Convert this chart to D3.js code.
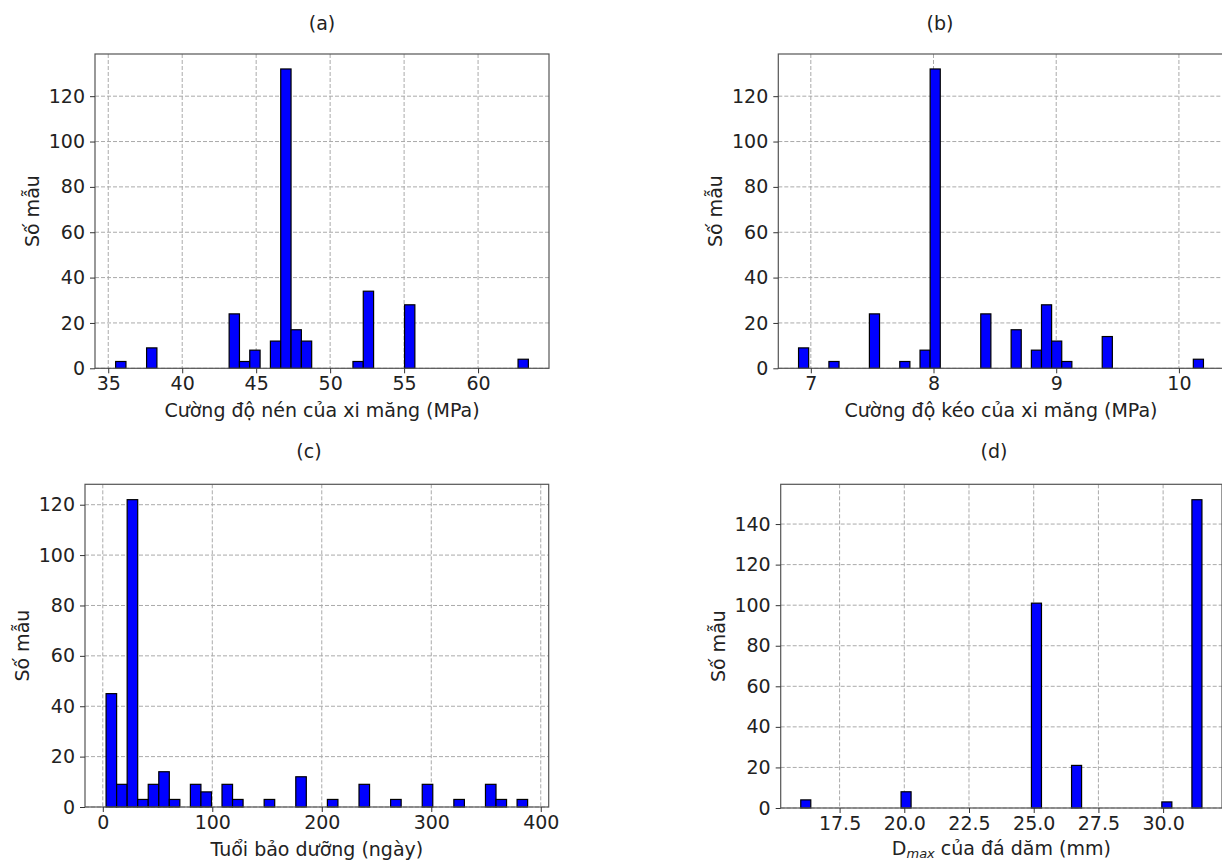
<!DOCTYPE html>
<html>
<head>
<meta charset="utf-8">
<script src="https://cdn.jsdelivr.net/npm/d3@7"></script>
<style>
  body { margin: 0; background: #fff; }
  svg { display: block; font-family: "DejaVu Sans", sans-serif; }
  .tick text { font-size: 19px; fill: #222; }
  .tick line { stroke: #333; }
  .grid line { stroke: #aaa; stroke-dasharray: 4,2; stroke-width: 1; }
</style>
</head>
<body>
<svg id="chart" width="1222" height="861"></svg>
<script>

// histogram counts, 40 equal bins between each data range
var countsA = [3,0,0,9,0,0,0,0,0,0, 0,24,3,8,0,12,132,17,12,0, 0,0,0,3,34,0,0,0,28,0, 0,0,0,0,0,0,0,0,0,4]
var countsB = [9,0,0,3,0,0,0,24,0,0, 3,0,8,132,0,0,0,0,24,0, 0,17,0,8,28,12,3,0,0,0, 14,0,0,0,0,0,0,0,0,4]
var countsC = [45,9,122,3,9,14,3,0,9,6, 0,9,3,0,0,3,0,0,12,0, 0,3,0,0,9,0,0,3,0,0, 9,0,0,3,0,0,9,3,0,3]
var countsD = [4,0,0,0,0,0,0,0,0,0, 8,0,0,0,0,0,0,0,0,0, 0,0,0,101,0,0,0,21,0,0, 0,0,0,0,0,0,3,0,0,152]

// data ranges (min, max) of each variable
var rangeA = [35.5, 63.4]
var rangeB = [6.9, 10.2]
var rangeC = [3, 388]
var rangeD = [16, 31.5]

// tick values
var xTicksA = [35, 40, 45, 50, 55, 60]
var xTicksB = [7, 8, 9, 10]
var xTicksC = [0, 100, 200, 300, 400]
var xTicksD = [17.5, 20.0, 22.5, 25.0, 27.5, 30.0]
var yTicksAB = [0, 20, 40, 60, 80, 100, 120]
var yTicksC = [0, 20, 40, 60, 80, 100, 120]
var yTicksD = [0, 20, 40, 60, 80, 100, 120, 140]

var titles = ["(a)", "(b)", "(c)", "(d)"]
var xLabels = ["Cường độ nén của xi măng (MPa)", "Cường độ kéo của xi măng (MPa)", "Tuổi bảo dưỡng (ngày)", null]
var yLabel = "Số mẫu"

var svg = d3.select("#chart")

var panels = [
  {counts: countsA, range: rangeA, xt: xTicksA, yt: yTicksAB, fmt: d3.format("d"),
   box: [95, 549, 54, 368.3], title: [322, 29.5], xl: xLabels[0], t: titles[0]},
  {counts: countsB, range: rangeB, xt: xTicksB, yt: yTicksAB, fmt: d3.format("d"),
   box: [778.3, 1223.7, 54, 368.3], title: [940, 29.5], xl: xLabels[1], t: titles[1]},
  {counts: countsC, range: rangeC, xt: xTicksC, yt: yTicksC, fmt: d3.format("d"),
   box: [85, 548.7, 484.3, 807], title: [309, 457.5], xl: xLabels[2], t: titles[2]},
  {counts: countsD, range: rangeD, xt: xTicksD, yt: yTicksD, fmt: d3.format(".1f"),
   box: [780.7, 1222, 484.3, 808], title: [994, 457.5], xl: null, t: titles[3]}
]

function drawPanel(p, idx) {
  var L = p.box[0], R = p.box[1], T = p.box[2], B = p.box[3]
  var lo = p.range[0], hi = p.range[1]
  var span = hi - lo
  var n = p.counts.length
  var bw = span / n

  // matplotlib-like 5% margins on x, 5% headroom on y
  var x = d3.scaleLinear().domain([lo - 0.05 * span, hi + 0.05 * span]).range([L, R])
  var ymax = d3.max(p.counts) * 1.05
  var y = d3.scaleLinear().domain([0, ymax]).range([B, T])

  var g = svg.append("g").attr("class", "panel" + idx)

  // grid
  var grid = g.append("g").attr("class", "grid")
  grid.selectAll(".gx").data(p.xt).enter().append("line")
    .attr("x1", function(d){ return x(d); }).attr("x2", function(d){ return x(d); })
    .attr("y1", T).attr("y2", B)
  grid.selectAll(".gy").data(p.yt).enter().append("line")
    .attr("y1", function(d){ return y(d); }).attr("y2", function(d){ return y(d); })
    .attr("x1", L).attr("x2", R)

  // bars
  var bins = p.counts.map(function(c, i){ return {x0: lo + i * bw, x1: lo + (i + 1) * bw, c: c}; })
    .filter(function(d){ return d.c > 0; })
  g.selectAll(".bar").data(bins).enter().append("rect")
    .attr("class", "bar")
    .attr("x", function(d){ return x(d.x0); })
    .attr("width", function(d){ return x(d.x1) - x(d.x0); })
    .attr("y", function(d){ return y(d.c); })
    .attr("height", function(d){ return B - y(d.c); })
    .style("fill", "#0000ff")
    .style("stroke", "#000")
    .style("stroke-width", 1.2)

  // frame
  g.append("rect")
    .attr("x", L).attr("y", T).attr("width", R - L).attr("height", B - T)
    .style("fill", "none").style("stroke", "#555").style("stroke-width", 1.2)

  // axes
  var xa = g.append("g").attr("transform", "translate(0," + B + ")")
    .call(d3.axisBottom(x).tickValues(p.xt).tickFormat(p.fmt).tickSize(5).tickPadding(3.5))
  var ya = g.append("g").attr("transform", "translate(" + L + ",0)")
    .call(d3.axisLeft(y).tickValues(p.yt).tickFormat(d3.format("d")).tickSize(5).tickPadding(5))
  xa.select(".domain").remove()
  ya.select(".domain").remove()
  g.selectAll(".tick text").style("font-family", "DejaVu Sans")

  // title
  g.append("text").attr("x", p.title[0]).attr("y", p.title[1])
    .attr("text-anchor", "middle").style("font-size", "19px").style("fill", "#222")
    .text(p.t)

  // y label
  g.append("text")
    .attr("transform", "translate(" + (L - 56) + "," + ((T + B) / 2) + ") rotate(-90)")
    .attr("text-anchor", "middle").style("font-size", "19px").style("fill", "#222")
    .text(yLabel)

  // x label
  var xl = g.append("text").attr("x", (L + R) / 2).attr("y", B + 47)
    .attr("text-anchor", "middle").style("font-size", "19px").style("fill", "#222")
  if (p.xl) {
    xl.attr("y", B + 49).text(p.xl)
  } else {
    xl.append("tspan").text("D")
    xl.append("tspan").attr("dy", 3).style("font-size", "13px").style("font-style", "italic").text("max")
    xl.append("tspan").attr("dy", -3).text(" của đá dăm (mm)")
  }
}

panels.forEach(drawPanel)

</script>
</body>
</html>
